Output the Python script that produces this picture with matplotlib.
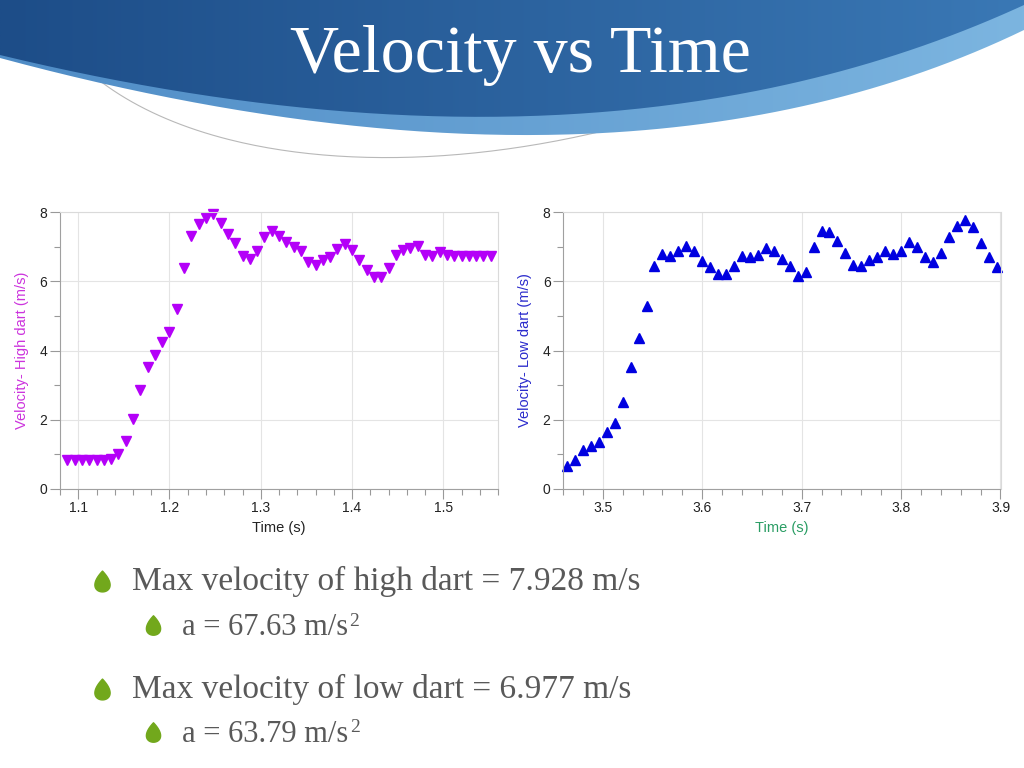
import numpy as np
import matplotlib
matplotlib.use("Agg")
import matplotlib.pyplot as plt
from matplotlib.path import Path
from matplotlib.patches import PathPatch
from matplotlib.ticker import MultipleLocator

# high dart: time (s) and velocity (m/s)
high_time = [1.088, 1.096, 1.104, 1.112, 1.120, 1.128, 1.136, 1.144, 1.152, 1.160,
             1.168, 1.176, 1.184, 1.192, 1.200, 1.208, 1.216, 1.224, 1.232, 1.240,
             1.248, 1.256, 1.264, 1.272, 1.280, 1.288, 1.296, 1.304, 1.312, 1.320,
             1.328, 1.336, 1.344, 1.352, 1.360, 1.368, 1.376, 1.384, 1.392, 1.400,
             1.408, 1.416, 1.424, 1.432, 1.440, 1.448, 1.456, 1.464, 1.472, 1.480,
             1.488, 1.496, 1.504, 1.512, 1.520, 1.528, 1.536, 1.544, 1.552]
high_vel = [0.84, 0.84, 0.84, 0.84, 0.84, 0.84, 0.88, 1.00, 1.40, 2.03,
            2.85, 3.51, 3.86, 4.25, 4.54, 5.20, 6.38, 7.32, 7.64, 7.83,
            7.93, 7.69, 7.37, 7.11, 6.72, 6.65, 6.87, 7.28, 7.45, 7.32,
            7.13, 7.00, 6.87, 6.55, 6.47, 6.60, 6.71, 6.94, 7.08, 6.91,
            6.62, 6.33, 6.12, 6.12, 6.39, 6.77, 6.91, 6.97, 7.03, 6.76,
            6.72, 6.84, 6.76, 6.72, 6.72, 6.72, 6.72, 6.72, 6.74]

# low dart: time (s) and velocity (m/s)
low_time = [3.464, 3.472, 3.480, 3.488, 3.496, 3.504, 3.512, 3.520, 3.528, 3.536,
            3.544, 3.552, 3.560, 3.568, 3.576, 3.584, 3.592, 3.600, 3.608, 3.616,
            3.624, 3.632, 3.640, 3.648, 3.656, 3.664, 3.672, 3.680, 3.688, 3.696,
            3.704, 3.712, 3.720, 3.728, 3.736, 3.744, 3.752, 3.760, 3.768, 3.776,
            3.784, 3.792, 3.800, 3.808, 3.816, 3.824, 3.832, 3.840, 3.848, 3.856,
            3.864, 3.872, 3.880, 3.888, 3.896]
low_vel = [0.66, 0.83, 1.13, 1.24, 1.37, 1.65, 1.90, 2.52, 3.51, 4.36,
           5.29, 6.44, 6.79, 6.72, 6.86, 7.03, 6.86, 6.58, 6.42, 6.21,
           6.21, 6.44, 6.73, 6.70, 6.75, 6.97, 6.86, 6.63, 6.45, 6.16,
           6.28, 7.00, 7.46, 7.41, 7.15, 6.82, 6.47, 6.43, 6.60, 6.71,
           6.87, 6.80, 6.86, 7.13, 6.99, 6.71, 6.57, 6.81, 7.29, 7.59,
           7.78, 7.57, 7.10, 6.70, 6.41]

title = "Velocity vs Time"
# (text, level, superscript)
bullets = [("Max velocity of high dart = 7.928 m/s", 0, ""),
           ("a = 67.63 m/s", 1, "2"),
           ("Max velocity of low dart = 6.977 m/s", 0, ""),
           ("a = 63.79 m/s", 1, "2")]

SERIF = ["Liberation Serif", "DejaVu Serif"]
SANS = ["Liberation Sans", "DejaVu Sans"]


def bezier(p, n=200):
    #cubic or quadratic bezier through control points p
    t = np.linspace(0, 1, n)[:, None]
    p = np.asarray(p, float)
    if len(p) == 3:
        return (1-t)**2*p[0] + 2*(1-t)*t*p[1] + t**2*p[2]
    return (1-t)**3*p[0] + 3*(1-t)**2*t*p[1] + 3*(1-t)*t**2*p[2] + t**3*p[3]


def gradient_fill(ax, edge, c_left, c_right):
    verts = np.vstack([[[0, -5]], edge, [[1030, -5]]])
    patch = PathPatch(Path(verts), facecolor="none", edgecolor="none")
    ax.add_patch(patch)
    cols = np.array([matplotlib.colors.to_rgb(c_left), matplotlib.colors.to_rgb(c_right)])
    s = np.linspace(0, 1, 256)[:, None]
    row = cols[0]*(1-s) + cols[1]*s
    img = ax.imshow(row[None, :, :], extent=(0, 1024, 200, -5), aspect="auto",
                    interpolation="bilinear", zorder=1)
    img.set_clip_path(patch)


def droplet():
    #teardrop, point up
    t = np.linspace(0, 2*np.pi, 80)
    x = 0.95*np.sin(t)*np.sin(t/2)
    y = np.cos(t)
    return Path(np.column_stack([x, y]), closed=True)


def style_axes(ax, xlim, ylabel, ycolor, xcolor):
    ax.set_xlim(*xlim)
    ax.set_ylim(0, 8)
    ax.xaxis.set_major_locator(MultipleLocator(0.1))
    ax.xaxis.set_minor_locator(MultipleLocator(0.02))
    ax.yaxis.set_major_locator(MultipleLocator(2))
    ax.yaxis.set_minor_locator(MultipleLocator(1))
    ax.grid(which="major", color="#e4e4e4", lw=0.8)
    ax.set_axisbelow(True)
    for s in ["top", "right"]:
        ax.spines[s].set_color("#dadada")
    for s in ["left", "bottom"]:
        ax.spines[s].set_color("#a0a0a0")
    ax.tick_params(which="major", direction="out", length=7, width=0.8,
                   color="#999999", labelsize=10, pad=2, labelcolor="#222222")
    ax.tick_params(which="minor", direction="out", length=4, width=0.8, color="#999999")
    for lab in ax.get_xticklabels() + ax.get_yticklabels():
        lab.set_family(SANS)
    ax.set_ylabel(ylabel, color=ycolor, fontsize=10.5, family=SANS, labelpad=8)
    ax.set_xlabel("Time (s)", color=xcolor, fontsize=10.5, family=SANS, labelpad=4)


fig = plt.figure(figsize=(10.24, 7.68), dpi=100)

# background layer in pixel coordinates
bg = fig.add_axes([0, 0, 1, 1], zorder=-1)
bg.set_xlim(0, 1024)
bg.set_ylim(768, 0)
bg.axis("off")

arc = bezier([(35, 0), (120, 200), (560, 220), (920, 0)])
bg.plot(arc[:, 0], arc[:, 1], color="#b8b8b8", lw=0.8, zorder=0)

light_edge = bezier([(0, 58), (620, 225), (1024, 30)])
gradient_fill(bg, light_edge, "#4f8cc6", "#7cb5e0")
dark_edge = bezier([(0, 55), (600, 200), (1024, 5)])
gradient_fill(bg, dark_edge, "#1d4d88", "#3a78b5")

bg.text(520, 72, title, color="white", fontsize=49, family=SERIF,
        ha="center", va="baseline", zorder=3)

drop = droplet()
y_pos = [590, 635, 698, 742]
for (txt, lvl, sup), y in zip(bullets, y_pos):
    if lvl == 0:
        bg.plot(102, y - 9, marker=drop, ms=15, color="#72a81c", zorder=3)
        bg.text(132, y, txt, fontsize=24, family=SERIF, color="#595959", va="baseline")
    else:
        bg.plot(153, y - 10, marker=drop, ms=14, color="#72a81c", zorder=3)
        t = bg.text(182, y, txt, fontsize=22, family=SERIF, color="#595959", va="baseline")
        if sup:
            bg.annotate(sup, xy=(1, 0), xycoords=t, xytext=(1, 9),
                        textcoords="offset points", fontsize=14, family=SERIF,
                        color="#595959", va="bottom", ha="left")

# left chart: high dart
ax1 = fig.add_axes([60/1024, 1-489/768, 438/1024, 277/768])
ax1.plot(high_time, high_vel, linestyle="none", marker="v", ms=6.5,
         color="#b400f8", clip_on=False)
style_axes(ax1, (1.08, 1.56), "Velocity- High dart (m/s)", "#cc33dd", "#222222")

# right chart: low dart
ax2 = fig.add_axes([563/1024, 1-489/768, 437.5/1024, 277/768])
ax2.plot(low_time, low_vel, linestyle="none", marker="^", ms=6.5,
         color="#0000e0", clip_on=False)
style_axes(ax2, (3.46, 3.9), "Velocity- Low dart (m/s)", "#2b2bcc", "#2a9d64")

fig.savefig("out.png", dpi=100)
